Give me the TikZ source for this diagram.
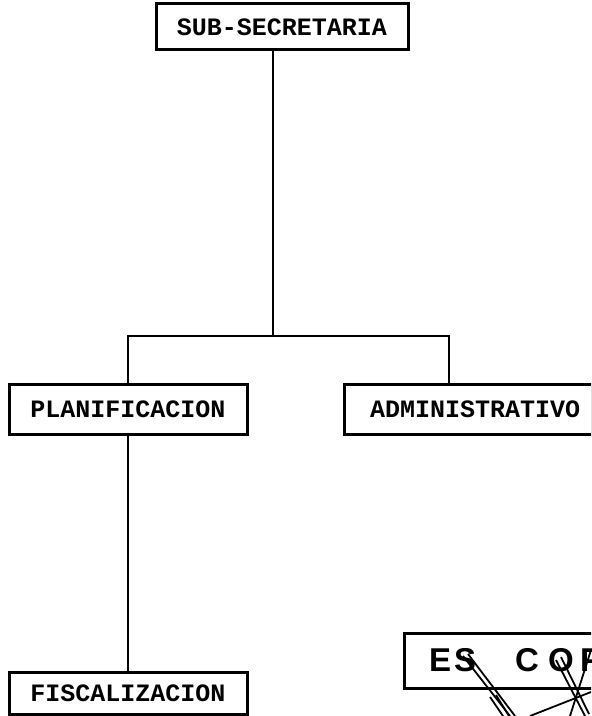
\documentclass[tikz,border=0pt]{standalone}
\usepackage{fontspec}
\setmonofont{Liberation Mono}
\setsansfont{Liberation Sans}
\begin{document}
\begin{tikzpicture}[x=0.5pt,y=-0.5pt,
  unit/.style={draw=black, line width=1.5pt, fill=white, inner sep=0pt,
    font=\ttfamily\bfseries\fontsize{12.5}{14}\selectfont},
  link/.style={draw=black, line width=1.1pt},
  letter/.style={inner sep=0pt, font=\sffamily\bfseries\fontsize{16.5}{18}\selectfont},
  scrib/.style={draw=black, line width=0.9pt}]
\useasboundingbox (0,0) rectangle (591,716);
\begin{scope}
\clip (0,0) rectangle (591,716);
\node[unit, minimum width=126pt, minimum height=23pt] (sub) at (282,27) {SUB-SECRETARIA};
\node[unit, minimum width=119pt, minimum height=25pt] (plan) at (128,409) {PLANIFICACION};
\node[unit, minimum width=124pt, minimum height=25pt, text width=118pt, align=left] (admin) at (468,409) {\hspace*{10pt}ADMINISTRATIVO};
\node[unit, minimum width=119pt, minimum height=21pt] (fisc) at (128,693) {FISCALIZACION};
\coordinate (j) at (273,336);
\coordinate (jr) at (449,336);
\draw[link] (sub.south -| j) -- (j);
\draw[link] (plan.north) |- (jr) -- (jr |- admin.north);
\draw[link] (plan.south) -- (fisc.north);
% stamp
\node[draw=black, line width=1.5pt, minimum width=110pt, minimum height=27.5pt, inner sep=0pt, anchor=north west] (stamp) at (403,632) {};
\node[letter] (e1) at (440,660) {E};
\node[letter] (s1) at (465,660) {S};
\node[letter] (c1) at (527,660) {C};
\node[letter] (o1) at (561,660) {O};
\node[letter] (p1) at (591,660) {P};
\draw[scrib] (463,656) -- (510,716);
\draw[scrib] (468,654) -- (515,716);
\draw[scrib] (490,697) -- (503,716);
\draw[scrib] (496,695) -- (509,716);
\draw[scrib] (530,716) -- (591,692);
\draw[scrib] (556,660) -- (585,716);
\draw[scrib] (561,657) -- (589,714);
\draw[scrib] (591,650) -- (570,716);
\end{scope}
\end{tikzpicture}
\end{document}
